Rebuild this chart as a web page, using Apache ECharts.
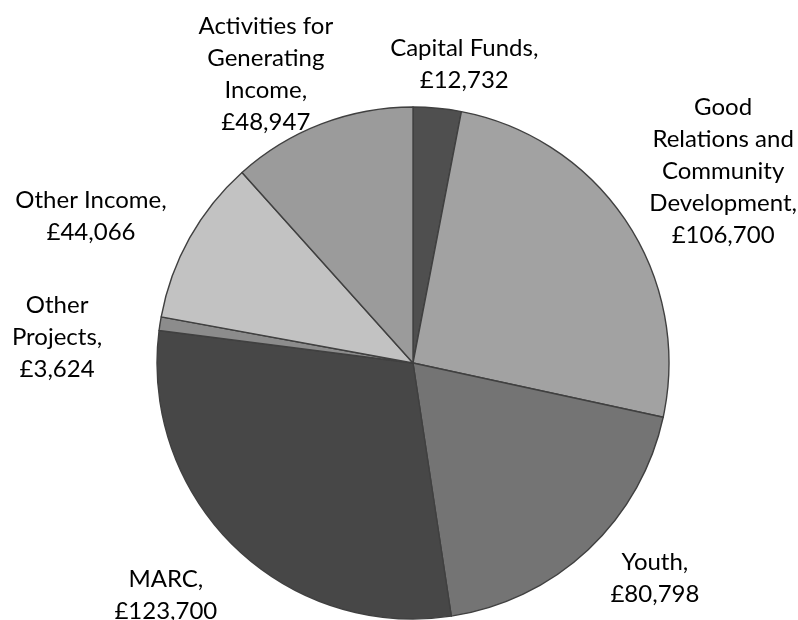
<!DOCTYPE html>
<html>
<head>
<meta charset="utf-8">
<script src="https://cdn.jsdelivr.net/npm/echarts@6/dist/echarts.min.js"></script>
<style>
html,body{margin:0;padding:0;background:#fff;}
#chart{width:798px;height:620px;}
</style>
</head>
<body>
<div id="chart"></div>
<script>
// Data
var categories = [
  "Capital Funds",
  "Good\nRelations and\nCommunity\nDevelopment",
  "Youth",
  "MARC",
  "Other\nProjects",
  "Other Income",
  "Activities for\nGenerating\nIncome"
];
var values = [12732, 106700, 80798, 123700, 3624, 44066, 48947];

// Styles
var colors = ["#4f4f4f", "#a2a2a2", "#747474", "#474747", "#8c8c8c", "#c2c2c2", "#9b9b9b"];
var labelNudge = [[22, 8], [6, 9], [23, -18], [-23, 3], [-38, 24], [-24, 20], [-24, 33]];

var CX = 413, CY = 363, R = 256, GAP = 20;

var total = values.reduce(function (a, b) { return a + b; }, 0);
function midAngle(i) {
  var s = 0;
  for (var k = 0; k < i; k++) s += values[k];
  return ((s + values[i] / 2) / total) * 2 * Math.PI;
}

var chart = echarts.init(document.getElementById('chart'), null, {renderer: 'canvas'});
chart.setOption({
  animation: false,
  backgroundColor: '#ffffff',
  series: [{
    type: 'pie',
    center: [CX, CY],
    radius: [0, R],
    startAngle: 90,
    clockwise: true,
    avoidLabelOverlap: false,
    data: categories.map(function (c, i) {
      return { name: c, value: values[i], itemStyle: { color: colors[i] } };
    }),
    itemStyle: { borderColor: '#404040', borderWidth: 1.4 },
    label: {
      show: true,
      position: 'outside',
      color: '#000',
      fontFamily: 'Lato, "Open Sans", sans-serif',
      fontSize: 24,
      lineHeight: 32,
      align: 'center',
      formatter: function (p) {
        return p.name + ',\n£' + p.value.toLocaleString('en-GB');
      }
    },
    labelLine: { show: false },
    emphasis: { disabled: true },
    labelLayout: function (params) {
      var i = params.dataIndex;
      var a = midAngle(i);
      var ux = Math.sin(a), uy = -Math.cos(a);
      var w = params.labelRect.width, h = params.labelRect.height;
      var ex = Math.abs(ux) > 1e-6 ? (w / 2) / Math.abs(ux) : Infinity;
      var ey = Math.abs(uy) > 1e-6 ? (h / 2) / Math.abs(uy) : Infinity;
      var d = R + GAP + Math.min(ex, ey);
      return {
        x: CX + ux * d + labelNudge[i][0],
        y: CY + uy * d + labelNudge[i][1],
        align: 'center',
        verticalAlign: 'middle'
      };
    }
  }]
});
</script>
</body>
</html>
